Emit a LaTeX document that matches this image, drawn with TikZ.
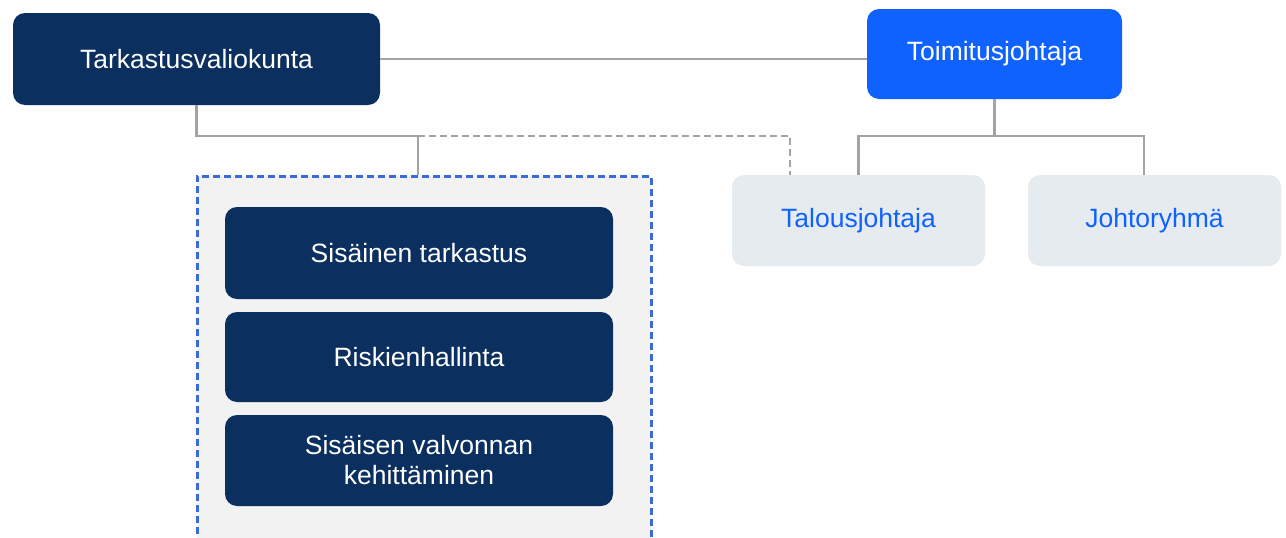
\documentclass[tikz,border=0pt]{standalone}
\usepackage{fontspec}
\setmainfont{Liberation Sans}
\definecolor{navy}{HTML}{0B2F5F}
\definecolor{brightblue}{HTML}{0F62FE}
\definecolor{lightbox}{HTML}{E6EBF0}
\definecolor{grpfill}{HTML}{F2F2F2}
\definecolor{grpline}{HTML}{3A6BD6}
\definecolor{connline}{HTML}{A3A3A3}
\tikzset{
  every node/.style={font=\fontsize{26.5}{30}\selectfont, inner sep=0pt, align=center},
  darkbox/.style={fill=navy, text=white, rounded corners=12pt},
  bluebox/.style={fill=brightblue, text=white, rounded corners=12pt},
  palebox/.style={fill=lightbox, text=brightblue, rounded corners=12pt},
  groupbox/.style={fill=grpfill, draw=grpline, line width=2.5pt, dash pattern=on 7pt off 4pt},
  conn/.style={draw=connline, line width=2.5pt},
  dashconn/.style={draw=connline, line width=2.5pt, dash pattern=on 7pt off 4pt}
}
\begin{document}
\begin{tikzpicture}[x=1pt,y=-1pt]
\useasboundingbox (0,0) rectangle (1286,538);
% group box
\node[groupbox, minimum width=454pt, minimum height=380pt, anchor=north west] (grp) at (196,175) {};
% nodes
\node[darkbox, minimum width=367pt, minimum height=92pt] (tark) at (196.5,59) {Tarkastusvaliokunta};
\node[bluebox, minimum width=255pt, minimum height=90pt] (toim) at (994.5,54) {Toimitusjohtaja};
\node[palebox, minimum width=253pt, minimum height=91pt] (talous) at (858.5,220.5) {Talousjohtaja};
\node[palebox, minimum width=253pt, minimum height=91pt] (johto) at (1154.5,220.5) {Johtoryhmä};
\node[darkbox, minimum width=388pt, minimum height=92pt] (sis) at (419,253) {Sisäinen tarkastus};
\node[darkbox, minimum width=388pt, minimum height=90pt] (risk) at (419,357) {Riskienhallinta};
\node[darkbox, minimum width=388pt, minimum height=91pt] (kehit) at (419,460.5) {Sisäisen valvonnan\\kehittäminen};
% junctions
\coordinate (j1) at (418,136);
\coordinate (j2) at (994.5,136);
% connectors
\draw[conn] (tark.east) -- (tark.east -| toim.west);
\draw[conn] (tark.south) |- (j1) -- (j1 |- grp.north);
\draw[dashconn] (j1) -| ([xshift=-68.5pt]talous.north);
\draw[conn] (toim.south) -- (j2);
\draw[conn] (talous.north) |- (j2) -| ([xshift=-10.5pt]johto.north);
\end{tikzpicture}
\end{document}
